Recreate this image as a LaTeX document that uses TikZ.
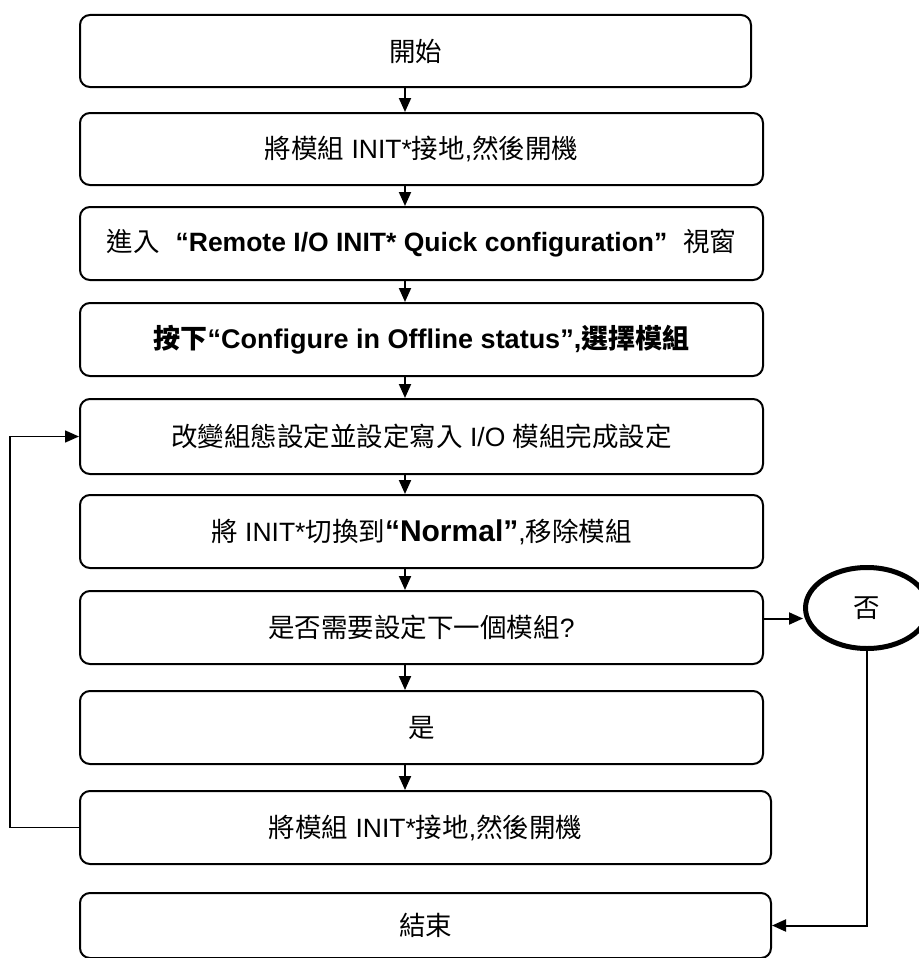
\documentclass[tikz,border=0pt]{standalone}
\usepackage{fontspec}
\setmainfont{Liberation Sans}
\newfontfamily\cjk{Noto Sans CJK TC}
\newcommand{\zh}[1]{{\cjk #1}}
\usetikzlibrary{arrows.meta,shapes.geometric}
\begin{document}
\begin{tikzpicture}[x=1pt,y=-1pt]
	\tikzset{
		stepbox/.style={draw,line width=2pt,rounded corners=10pt,anchor=north west,inner sep=0pt,
			minimum width=683pt,minimum height=73pt,font=\fontsize{26.5}{30}\selectfont},
		flow/.style={line width=2pt,-{Triangle[length=14pt,width=12pt]}}
	}
	\useasboundingbox (0,0) rectangle (918,958);
	\coordinate (ax) at (405,0);
	\node[stepbox,minimum width=671pt,minimum height=72pt] (start) at (79,14) {\zh{開始}};
	\node[stepbox,minimum height=72pt] (ground) at (79,112) {\zh{將模組} INIT*\zh{接地},\zh{然後開機}};
	\node[stepbox] (enter) at (79,206) {\zh{進入}\hspace{0.6em}\textbf{“Remote I/O INIT* Quick configuration”}\hspace{0.6em}\zh{視窗}};
	\node[stepbox,font=\fontsize{27}{30}\selectfont\bfseries] (offline) at (79,302) {\zh{按下}“Configure in Offline status”,\zh{選擇模組}};
	\node[stepbox,minimum height=75pt] (change) at (79,398) {\zh{改變組態設定並設定寫入} I/O \zh{模組完成設定}};
	\node[stepbox] (normal) at (79,494) {\zh{將} INIT*\zh{切換到}{\fontsize{30}{30}\selectfont\bfseries“Normal”},\zh{移除模組}};
	\node[stepbox] (ask) at (79,590) {\zh{是否需要設定下一個模組}?};
	\node[stepbox] (yes) at (79,690) {\zh{是}};
	\node[stepbox,minimum width=691pt] (again) at (79,790) {\zh{將模組} INIT*\zh{接地},\zh{然後開機}};
	\node[stepbox,minimum width=691pt,minimum height=65pt] (finish) at (79,892) {\zh{結束}};
	\node[draw,ellipse,line width=5pt,minimum width=123pt,minimum height=81pt,inner sep=0pt,
		font=\fontsize{26.5}{30}\selectfont] (no) at (867,608) {\zh{否}};
	% arrows down the chain
	\foreach \a/\b in {start/ground,ground/enter,enter/offline,offline/change,change/normal,normal/ask,ask/yes,yes/again}
		\draw[flow] (\a.south -| ax) -- (\b.north -| ax);
	\coordinate (askout) at ([yshift=9pt]ask.east);
	\draw[flow] (askout) -- (askout -| no.west);
	\draw[flow] (no.south) |- (finish.east);
	\draw[flow,line width=1.5pt] (again.west) -- ++(-69,0) |- (change.west);
\end{tikzpicture}
\end{document}
